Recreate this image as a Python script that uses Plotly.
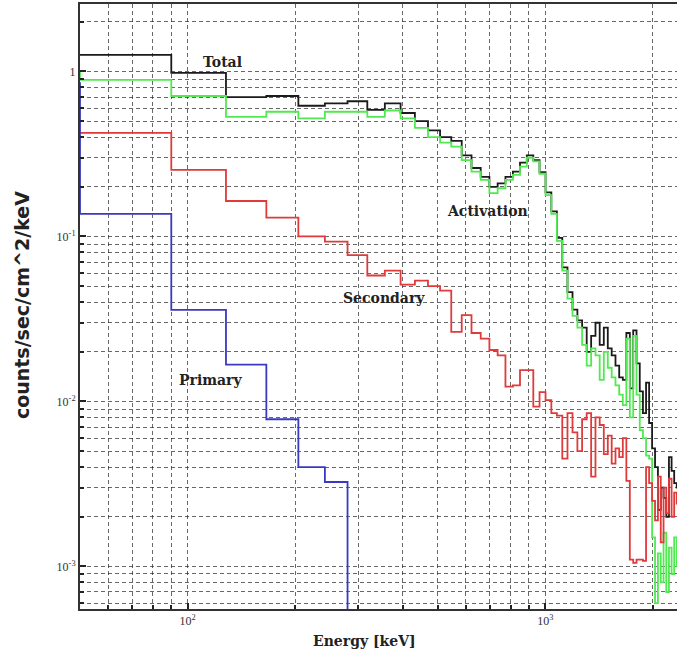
import numpy as np
import plotly.graph_objects as go

# Bin edges in keV (first bin starts below the visible range)
energy_edges = [12, 50, 90, 128, 166, 204, 242, 280, 318, 356, 394, 432, 470, 508,
                546, 584, 622, 660, 698, 736, 774, 812, 850, 888, 926, 964, 1002,
                1040, 1078, 1116, 1154, 1192, 1230, 1268, 1306, 1344, 1382, 1420,
                1458, 1496, 1534, 1572, 1610, 1648, 1686, 1724, 1762, 1800, 1838,
                1876, 1914, 1952, 1990, 2028, 2066, 2104, 2142, 2180, 2218, 2256,
                2294, 2332, 2370]

# Background rates per bin, counts/sec/cm^2/keV
total = [1.26, 1.26, 0.98, 0.70, 0.71, 0.62, 0.64, 0.66, 0.585, 0.64, 0.56, 0.50,
         0.44, 0.40, 0.38, 0.31, 0.26, 0.23, 0.20, 0.21, 0.23, 0.247, 0.28, 0.31,
         0.29, 0.245, 0.185, 0.142, 0.098, 0.065, 0.046, 0.036, 0.031, 0.028,
         0.020, 0.025, 0.030, 0.022, 0.028, 0.021, 0.019, 0.0165, 0.014, 0.0135,
         0.026, 0.012, 0.027, 0.017, 0.0115, 0.0085, 0.013, 0.0074, 0.0052,
         0.0040, 0.0022, 0.0030, 0.0026, 0.0020, 0.0046, 0.0038, 0.0032, 0.0030]

activation = [0.98, 0.89, 0.71, 0.53, 0.57, 0.52, 0.57, 0.57, 0.53, 0.58, 0.52,
              0.455, 0.40, 0.37, 0.35, 0.29, 0.247, 0.22, 0.183, 0.196, 0.22,
              0.236, 0.265, 0.30, 0.285, 0.24, 0.178, 0.137, 0.094, 0.062, 0.042,
              0.033, 0.028, 0.022, 0.0165, 0.021, 0.019, 0.0135, 0.020, 0.016,
              0.014, 0.0125, 0.011, 0.0095, 0.024, 0.008, 0.025, 0.011, 0.0067,
              0.006, 0.0047, 0.0045, 0.0015, 0.0006, 0.0012, 0.0008, 0.0016,
              0.0007, 0.0013, 0.0009, 0.0015, 0.0010]

secondary = [0.424, 0.424, 0.253, 0.164, 0.13, 0.10, 0.093, 0.077, 0.058, 0.062,
             0.051, 0.054, 0.050, 0.047, 0.0264, 0.0334, 0.026, 0.024, 0.0205,
             0.019, 0.0123, 0.0125, 0.0155, 0.0155, 0.0093, 0.0114, 0.0102,
             0.0085, 0.0082, 0.0045, 0.0085, 0.0065, 0.0050, 0.0078, 0.0085,
             0.0035, 0.0080, 0.0072, 0.0048, 0.0062, 0.0042, 0.0052, 0.0046,
             0.0060, 0.0033, 0.0011, 0.00105, 0.0011, 0.0011, 0.00108, 0.0040,
             0.0032, 0.0025, 0.0019, 0.0035, 0.0014, 0.0030, 0.0021, 0.0034,
             0.0020, 0.0028, 0.0024]

primary = [0.85, 0.137, 0.0359, 0.0167, 0.0078, 0.0040, 0.00325, 1e-5]

series = [
    ("Total", total, "#1a1a1a"),
    ("Activation", activation, "#50ea50"),
    ("Secondary", secondary, "#e03a3a"),
    ("Primary", primary, "#3a3ac0"),
]

labels = [
    ("Total", 0.238, 0.904),
    ("Activation", 0.683, 0.658),
    ("Secondary", 0.509, 0.514),
    ("Primary", 0.218, 0.379),
]


def step_points(edges, values):
    xs = list(edges[:len(values) + 1])
    ys = list(values) + [values[-1]]
    return xs, ys


fig = go.Figure()
for name, vals, color in series:
    xs, ys = step_points(energy_edges, vals)
    fig.add_trace(go.Scatter(x=xs, y=ys, mode="lines", name=name,
                             line=dict(color=color, width=1.8, shape="hv"),
                             showlegend=False))

grid_color = "rgba(40,40,40,0.7)"
x_minor = [m * 10 ** e for e in (1, 2, 3) for m in range(2, 10)]
y_minor = [m * 10 ** e for e in (-4, -3, -2, -1, 0) for m in range(2, 10)]
tick_font = dict(family="Liberation Serif", size=12, color="#333")

fig.update_xaxes(
    type="log", range=[np.log10(50), np.log10(2336)],
    tickvals=[100, 1000], ticktext=["10<sup>2</sup>", "10<sup>3</sup>"],
    tickfont=tick_font, ticks="inside", ticklen=6, tickwidth=2, tickcolor="#222",
    showgrid=True, gridcolor=grid_color, gridwidth=1, griddash="4px,3px",
    minor=dict(tickvals=x_minor, showgrid=True, gridcolor=grid_color,
               griddash="4px,3px", gridwidth=1, ticks="inside", ticklen=4,
               tickcolor="#222"),
    showline=True, linewidth=2, linecolor="#333", mirror=True, zeroline=False,
)
fig.update_yaxes(
    type="log", range=[-3.258, 0.409],
    tickvals=[1e-3, 1e-2, 1e-1, 1],
    ticktext=["10<sup>-3</sup>", "10<sup>-2</sup>", "10<sup>-1</sup>", "1"],
    tickfont=tick_font, ticks="inside", ticklen=6, tickwidth=2, tickcolor="#222",
    showgrid=True, gridcolor=grid_color, gridwidth=1, griddash="4px,3px",
    minor=dict(tickvals=y_minor, showgrid=True, gridcolor=grid_color,
               griddash="4px,3px", gridwidth=1, ticks="inside", ticklen=4,
               tickcolor="#222"),
    showline=True, linewidth=2, linecolor="#333", mirror=False, zeroline=False,
)

label_font = dict(family="DejaVu Serif", size=14, color="#222")
annotations = []
for text, ax, ay in labels:
    annotations.append(dict(text=f"<b>{text}</b>", x=ax, y=ay, xref="paper",
                            yref="paper", xanchor="center", yanchor="middle",
                            showarrow=False, font=label_font))
annotations.append(dict(text="<b>Energy [keV]</b>", x=0.476, y=-0.053,
                        xref="paper", yref="paper", xanchor="center",
                        yanchor="middle", showarrow=False, font=label_font))
annotations.append(dict(text="<b>counts/sec/cm^2/keV</b>", x=-0.097, y=0.5025,
                        xref="paper", yref="paper", xanchor="center",
                        yanchor="middle", showarrow=False, textangle=-90,
                        font=dict(family="DejaVu Sans", size=19,
                                  color="#222")))

fig.update_layout(
    width=677, height=659,
    margin=dict(l=80, r=0, t=4, b=50),
    paper_bgcolor="white", plot_bgcolor="white",
    annotations=annotations,
)

fig.write_html("out.html")
